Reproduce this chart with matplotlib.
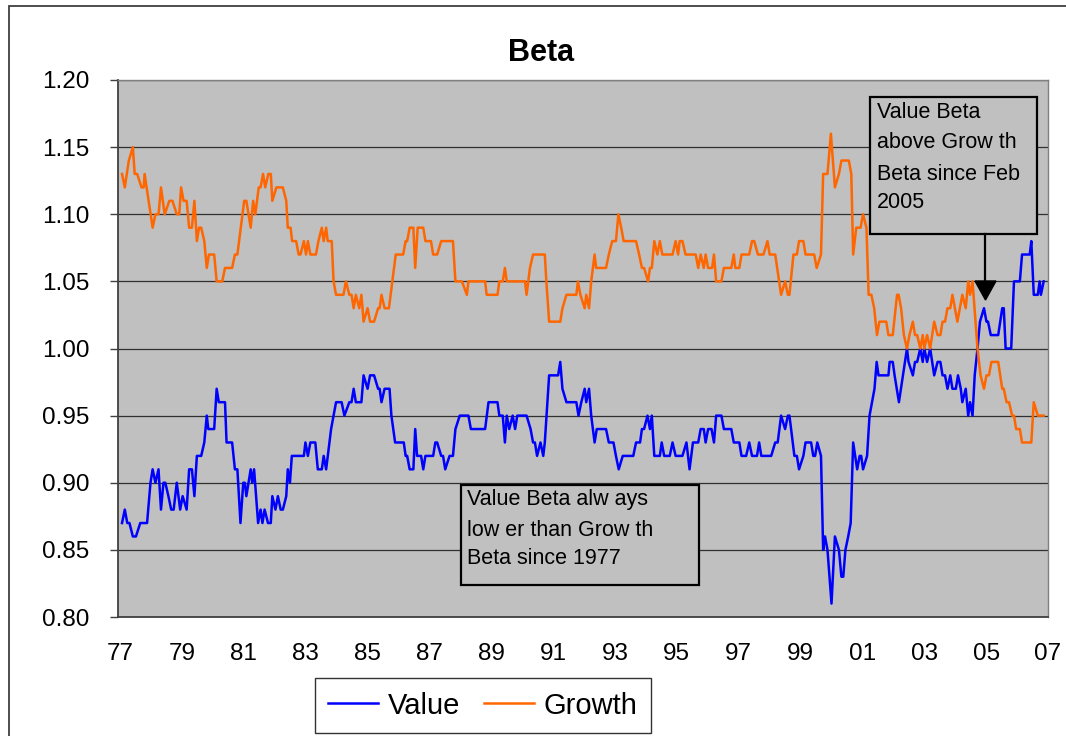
import matplotlib
matplotlib.use("Agg")
import matplotlib.pyplot as plt
from matplotlib.patches import Rectangle, Polygon
from matplotlib.lines import Line2D

plt.rcParams['font.family'] = ['Liberation Sans', 'DejaVu Sans']

# ---------------- data ----------------
value_dates = [
    1977.06, 1977.15, 1977.23, 1977.30, 1977.41, 1977.51, 1977.65, 1977.87, 1977.98, 1978.05,
    1978.14, 1978.24, 1978.32, 1978.40, 1978.46, 1978.56, 1978.65, 1978.73, 1978.83, 1978.94,
    1979.02, 1979.15, 1979.23, 1979.32, 1979.40, 1979.48, 1979.62, 1979.72, 1979.80, 1979.85,
    1980.04, 1980.12, 1980.19, 1980.39, 1980.44, 1980.62, 1980.71, 1980.79, 1980.89, 1980.98,
    1981.03, 1981.08, 1981.22, 1981.27, 1981.33, 1981.46, 1981.54, 1981.60, 1981.67, 1981.78,
    1981.87, 1981.92, 1982.02, 1982.10, 1982.19, 1982.26, 1982.37, 1982.42, 1982.49, 1982.55,
    1982.94, 1982.99, 1983.07, 1983.15, 1983.31, 1983.39, 1983.52, 1983.58, 1983.66, 1983.82,
    1983.98, 1984.16, 1984.25, 1984.41, 1984.48, 1984.55, 1984.62, 1984.80, 1984.87, 1985.00,
    1985.08, 1985.21, 1985.34, 1985.39, 1985.45, 1985.55, 1985.71, 1985.77, 1985.89, 1986.17,
    1986.23, 1986.28, 1986.36, 1986.48, 1986.54, 1986.60, 1986.73, 1986.80, 1986.87, 1987.12,
    1987.19, 1987.25, 1987.38, 1987.44, 1987.51, 1987.65, 1987.76, 1987.84, 1987.98, 1988.26,
    1988.34, 1988.80, 1988.91, 1989.20, 1989.26, 1989.37, 1989.44, 1989.50, 1989.58, 1989.69,
    1989.77, 1989.84, 1990.14, 1990.27, 1990.35, 1990.41, 1990.48, 1990.59, 1990.68, 1990.73,
    1990.87, 1991.16, 1991.23, 1991.30, 1991.43, 1991.75, 1991.82, 1991.91, 1992.02, 1992.07,
    1992.16, 1992.23, 1992.34, 1992.41, 1992.71, 1992.80, 1992.95, 1993.03, 1993.12, 1993.25,
    1993.59, 1993.68, 1993.81, 1993.87, 1993.94, 1994.05, 1994.13, 1994.19, 1994.27, 1994.45,
    1994.51, 1994.59, 1994.77, 1994.86, 1994.96, 1995.18, 1995.31, 1995.41, 1995.52, 1995.69,
    1995.77, 1995.87, 1995.93, 1996.01, 1996.12, 1996.20, 1996.27, 1996.44, 1996.52, 1996.76,
    1996.84, 1997.02, 1997.09, 1997.24, 1997.34, 1997.43, 1997.59, 1997.66, 1997.73, 1998.05,
    1998.18, 1998.26, 1998.37, 1998.50, 1998.59, 1998.64, 1998.80, 1998.88, 1998.95, 1999.09,
    1999.16, 1999.34, 1999.41, 1999.47, 1999.54, 1999.66, 1999.73, 1999.79, 1999.87, 2000.00,
    2000.11, 2000.24, 2000.32, 2000.38, 2000.45, 2000.54, 2000.62, 2000.70, 2000.83, 2000.91,
    2000.96, 2001.02, 2001.15, 2001.23, 2001.31, 2001.39, 2001.46, 2001.52, 2001.84, 2001.88,
    2001.98, 2002.04, 2002.18, 2002.31, 2002.44, 2002.49, 2002.63, 2002.70, 2002.77, 2002.87,
    2002.95, 2003.00, 2003.09, 2003.19, 2003.32, 2003.43, 2003.52, 2003.59, 2003.67, 2003.75,
    2003.84, 2003.91, 2004.02, 2004.09, 2004.18, 2004.23, 2004.34, 2004.42, 2004.48, 2004.56,
    2004.63, 2004.72, 2004.80, 2004.93, 2005.01, 2005.06, 2005.15, 2005.39, 2005.52, 2005.57,
    2005.63, 2005.81, 2005.90, 2006.09, 2006.16, 2006.41, 2006.46, 2006.54, 2006.67, 2006.73,
    2006.77, 2006.86,
]
value_beta = [
    0.87, 0.88, 0.87, 0.87, 0.86, 0.86, 0.87, 0.87, 0.90, 0.91,
    0.90, 0.91, 0.88, 0.90, 0.90, 0.89, 0.88, 0.88, 0.90, 0.88,
    0.89, 0.88, 0.91, 0.91, 0.89, 0.92, 0.92, 0.93, 0.95, 0.94,
    0.94, 0.97, 0.96, 0.96, 0.93, 0.93, 0.91, 0.91, 0.87, 0.90,
    0.90, 0.89, 0.91, 0.90, 0.91, 0.87, 0.88, 0.87, 0.88, 0.87,
    0.87, 0.89, 0.88, 0.89, 0.88, 0.88, 0.89, 0.91, 0.90, 0.92,
    0.92, 0.93, 0.92, 0.93, 0.93, 0.91, 0.91, 0.92, 0.91, 0.94,
    0.96, 0.96, 0.95, 0.96, 0.96, 0.97, 0.96, 0.96, 0.98, 0.97,
    0.98, 0.98, 0.97, 0.97, 0.96, 0.97, 0.97, 0.95, 0.93, 0.93,
    0.92, 0.92, 0.91, 0.91, 0.94, 0.92, 0.92, 0.91, 0.92, 0.92,
    0.93, 0.93, 0.92, 0.92, 0.91, 0.92, 0.92, 0.94, 0.95, 0.95,
    0.94, 0.94, 0.96, 0.96, 0.95, 0.95, 0.93, 0.95, 0.94, 0.95,
    0.94, 0.95, 0.95, 0.94, 0.93, 0.93, 0.92, 0.93, 0.92, 0.93,
    0.98, 0.98, 0.99, 0.97, 0.96, 0.96, 0.95, 0.96, 0.97, 0.96,
    0.97, 0.95, 0.93, 0.94, 0.94, 0.93, 0.93, 0.92, 0.91, 0.92,
    0.92, 0.93, 0.93, 0.94, 0.94, 0.95, 0.94, 0.95, 0.92, 0.92,
    0.93, 0.92, 0.92, 0.93, 0.92, 0.92, 0.93, 0.91, 0.93, 0.93,
    0.94, 0.94, 0.93, 0.94, 0.94, 0.93, 0.95, 0.95, 0.94, 0.94,
    0.93, 0.93, 0.92, 0.92, 0.93, 0.92, 0.92, 0.93, 0.92, 0.92,
    0.93, 0.93, 0.95, 0.94, 0.95, 0.95, 0.92, 0.92, 0.91, 0.92,
    0.93, 0.93, 0.92, 0.92, 0.93, 0.92, 0.85, 0.86, 0.85, 0.81,
    0.86, 0.85, 0.83, 0.83, 0.85, 0.86, 0.87, 0.93, 0.91, 0.92,
    0.92, 0.91, 0.92, 0.95, 0.96, 0.97, 0.99, 0.98, 0.98, 0.99,
    0.99, 0.98, 0.96, 0.98, 1.00, 0.99, 0.98, 0.99, 0.99, 1.00,
    0.99, 1.00, 0.99, 1.00, 0.98, 0.99, 0.99, 0.98, 0.98, 0.97,
    0.98, 0.97, 0.97, 0.98, 0.97, 0.96, 0.97, 0.95, 0.96, 0.95,
    0.98, 1.00, 1.02, 1.03, 1.02, 1.02, 1.01, 1.01, 1.03, 1.03,
    1.00, 1.00, 1.05, 1.05, 1.07, 1.07, 1.08, 1.04, 1.04, 1.05,
    1.04, 1.05,
]

growth_dates = [
    1977.06, 1977.15, 1977.28, 1977.41, 1977.47, 1977.55, 1977.69, 1977.76, 1977.79, 1977.92,
    1978.05, 1978.14, 1978.24, 1978.32, 1978.44, 1978.59, 1978.69, 1978.83, 1978.91, 1978.97,
    1979.05, 1979.15, 1979.23, 1979.32, 1979.40, 1979.48, 1979.55, 1979.62, 1979.72, 1979.80,
    1979.87, 1980.04, 1980.12, 1980.30, 1980.39, 1980.62, 1980.71, 1980.79, 1980.90, 1981.01,
    1981.08, 1981.22, 1981.30, 1981.37, 1981.48, 1981.54, 1981.62, 1981.69, 1981.79, 1981.87,
    1981.92, 1982.05, 1982.26, 1982.37, 1982.42, 1982.51, 1982.56, 1982.69, 1982.77, 1982.83,
    1982.94, 1983.01, 1983.07, 1983.15, 1983.33, 1983.41, 1983.52, 1983.58, 1983.66, 1983.71,
    1983.84, 1983.90, 1983.98, 1984.22, 1984.30, 1984.41, 1984.48, 1984.55, 1984.62, 1984.73,
    1984.80, 1984.87, 1985.00, 1985.08, 1985.21, 1985.34, 1985.39, 1985.45, 1985.55, 1985.69,
    1985.80, 1985.91, 1986.15, 1986.23, 1986.28, 1986.36, 1986.48, 1986.54, 1986.62, 1986.80,
    1986.87, 1987.05, 1987.12, 1987.25, 1987.38, 1987.76, 1987.84, 1988.05, 1988.21, 1988.26,
    1988.80, 1988.85, 1989.20, 1989.26, 1989.37, 1989.44, 1989.50, 1990.09, 1990.14, 1990.25,
    1990.35, 1990.73, 1990.78, 1990.87, 1991.23, 1991.30, 1991.43, 1991.75, 1991.80, 1991.88,
    1992.02, 1992.07, 1992.16, 1992.23, 1992.34, 1992.39, 1992.71, 1992.80, 1992.91, 1993.03,
    1993.11, 1993.20, 1993.28, 1993.68, 1993.78, 1993.87, 1993.94, 1994.07, 1994.13, 1994.19,
    1994.27, 1994.37, 1994.45, 1994.53, 1994.86, 1994.96, 1995.04, 1995.09, 1995.18, 1995.28,
    1995.61, 1995.69, 1995.77, 1995.87, 1995.93, 1996.01, 1996.14, 1996.20, 1996.27, 1996.44,
    1996.52, 1996.76, 1996.84, 1996.89, 1997.02, 1997.09, 1997.34, 1997.43, 1997.50, 1997.62,
    1997.80, 1997.93, 1998.00, 1998.18, 1998.37, 1998.50, 1998.59, 1998.64, 1998.77, 1998.88,
    1998.95, 1999.09, 1999.16, 1999.44, 1999.52, 1999.66, 1999.73, 1999.87, 1999.98, 2000.11,
    2000.24, 2000.32, 2000.56, 2000.64, 2000.70, 2000.80, 2000.94, 2001.02, 2001.13, 2001.20,
    2001.29, 2001.38, 2001.47, 2001.55, 2001.77, 2001.84, 2001.98, 2002.12, 2002.17, 2002.25,
    2002.34, 2002.44, 2002.52, 2002.63, 2002.70, 2002.77, 2002.87, 2002.95, 2003.00, 2003.09,
    2003.19, 2003.32, 2003.43, 2003.52, 2003.59, 2003.67, 2003.75, 2003.84, 2003.91, 2003.99,
    2004.07, 2004.23, 2004.34, 2004.42, 2004.48, 2004.56, 2004.72, 2004.82, 2004.93, 2005.01,
    2005.09, 2005.17, 2005.39, 2005.52, 2005.57, 2005.66, 2005.74, 2005.84, 2005.90, 2005.97,
    2006.09, 2006.16, 2006.46, 2006.54, 2006.67, 2006.86,
]
growth_beta = [
    1.13, 1.12, 1.14, 1.15, 1.13, 1.13, 1.12, 1.12, 1.13, 1.11,
    1.09, 1.10, 1.10, 1.12, 1.10, 1.11, 1.11, 1.10, 1.10, 1.12,
    1.11, 1.11, 1.09, 1.09, 1.11, 1.08, 1.09, 1.09, 1.08, 1.06,
    1.07, 1.07, 1.05, 1.05, 1.06, 1.06, 1.07, 1.07, 1.09, 1.11,
    1.11, 1.09, 1.11, 1.10, 1.12, 1.12, 1.13, 1.12, 1.13, 1.13,
    1.11, 1.12, 1.12, 1.11, 1.09, 1.09, 1.08, 1.08, 1.07, 1.07,
    1.08, 1.07, 1.08, 1.07, 1.07, 1.08, 1.09, 1.08, 1.09, 1.08,
    1.08, 1.05, 1.04, 1.04, 1.05, 1.04, 1.04, 1.03, 1.04, 1.03,
    1.04, 1.02, 1.03, 1.02, 1.02, 1.03, 1.03, 1.04, 1.03, 1.03,
    1.05, 1.07, 1.07, 1.08, 1.08, 1.09, 1.09, 1.06, 1.09, 1.09,
    1.08, 1.08, 1.07, 1.07, 1.08, 1.08, 1.05, 1.05, 1.04, 1.05,
    1.05, 1.04, 1.04, 1.05, 1.05, 1.06, 1.05, 1.05, 1.04, 1.06,
    1.07, 1.07, 1.05, 1.02, 1.02, 1.03, 1.04, 1.04, 1.05, 1.04,
    1.03, 1.04, 1.03, 1.05, 1.07, 1.06, 1.06, 1.07, 1.08, 1.08,
    1.10, 1.09, 1.08, 1.08, 1.07, 1.06, 1.06, 1.05, 1.06, 1.06,
    1.08, 1.07, 1.08, 1.07, 1.07, 1.08, 1.07, 1.08, 1.08, 1.07,
    1.07, 1.06, 1.07, 1.06, 1.07, 1.06, 1.06, 1.07, 1.05, 1.05,
    1.06, 1.06, 1.07, 1.06, 1.06, 1.07, 1.07, 1.08, 1.08, 1.07,
    1.07, 1.08, 1.07, 1.07, 1.04, 1.05, 1.04, 1.04, 1.07, 1.07,
    1.08, 1.08, 1.07, 1.07, 1.06, 1.07, 1.13, 1.13, 1.16, 1.12,
    1.13, 1.14, 1.14, 1.13, 1.07, 1.09, 1.09, 1.10, 1.09, 1.04,
    1.04, 1.03, 1.01, 1.02, 1.02, 1.01, 1.01, 1.04, 1.04, 1.03,
    1.01, 1.00, 1.01, 1.02, 1.01, 1.01, 1.00, 1.01, 1.00, 1.01,
    1.00, 1.02, 1.01, 1.01, 1.02, 1.02, 1.03, 1.03, 1.04, 1.03,
    1.02, 1.04, 1.03, 1.05, 1.04, 1.05, 1.00, 0.98, 0.97, 0.98,
    0.98, 0.99, 0.99, 0.97, 0.97, 0.96, 0.96, 0.95, 0.95, 0.94,
    0.94, 0.93, 0.93, 0.96, 0.95, 0.95,
]

x_tick_years = [1977, 1979, 1981, 1983, 1985, 1987, 1989, 1991, 1993, 1995,
                1997, 1999, 2001, 2003, 2005, 2007]
x_tick_labels = ["77", "79", "81", "83", "85", "87", "89", "91", "93", "95",
                 "97", "99", "01", "03", "05", "07"]
y_ticks = [0.80, 0.85, 0.90, 0.95, 1.00, 1.05, 1.10, 1.15, 1.20]

series_names = ["Value", "Growth"]
title_text = "Beta"
note_low = ["Value Beta alw ays", "low er than Grow th", "Beta since 1977"]
note_high = ["Value Beta", "above Grow th", "Beta since Feb", "2005"]

# ---------------- figure ----------------
W, H = 1066, 736
fig = plt.figure(figsize=(W / 100, H / 100), dpi=100)
fig.patch.set_facecolor("white")


def fx(px):
    return px / W


def fy(py):
    return 1 - py / H


# outer chart border (only left and top visible in reference)
fig.add_artist(Rectangle((fx(9), -0.05), 1.2, fy(6) + 0.05, transform=fig.transFigure,
                         fill=False, edgecolor="#404040", linewidth=1.3))

ax = fig.add_axes([fx(118), fy(617), fx(1048) - fx(118), fy(80) - fy(617)])
ax.set_facecolor("#C0C0C0")

ax.plot(value_dates, value_beta, color="#0000FF", linewidth=1.8, label=series_names[0], zorder=3)
ax.plot(growth_dates, growth_beta, color="#FF6600", linewidth=1.8, label=series_names[1], zorder=3)

ax.set_xlim(1976.93, 2007.0)
ax.set_ylim(0.80, 1.20)
ax.set_yticks(y_ticks)
ax.set_yticklabels([f"{v:.2f}" for v in y_ticks])
ax.set_xticks(x_tick_years)
ax.set_xticklabels(x_tick_labels)
ax.yaxis.grid(True, color="#303030", linewidth=0.9, zorder=1)
ax.set_axisbelow(True)
ax.tick_params(axis="y", direction="out", length=5.5, width=1.0, color="#404040",
               pad=15, labelsize=17.5)
ax.tick_params(axis="x", length=0, pad=19, labelsize=17.5)

for side in ["left", "bottom"]:
    ax.spines[side].set_color("#404040")
    ax.spines[side].set_linewidth(1.3)
for side in ["top", "right"]:
    ax.spines[side].set_color("#808080")
    ax.spines[side].set_linewidth(1.0)

# title
fig.text(fx(541), fy(53), title_text, ha="center", va="center",
         fontsize=22, fontweight="bold")

# annotation box 1
fig.add_artist(Rectangle((fx(461), fy(585)), fx(699) - fx(461), fy(485) - fy(585),
                         transform=fig.transFigure, facecolor="#C0C0C0",
                         edgecolor="black", linewidth=1.6, zorder=5))
for line, py in zip(note_low, [500, 530, 559]):
    fig.text(fx(467), fy(py), line, ha="left", va="center", fontsize=15.5, zorder=6)

# annotation box 2
fig.add_artist(Rectangle((fx(870), fy(234)), fx(1037) - fx(870), fy(97) - fy(234),
                         transform=fig.transFigure, facecolor="#C0C0C0",
                         edgecolor="black", linewidth=1.6, zorder=5))
for line, py in zip(note_high, [113, 143, 174, 203]):
    fig.text(fx(877), fy(py), line, ha="left", va="center", fontsize=15.5, zorder=6)

# arrow
fig.add_artist(Line2D([fx(985), fx(985)], [fy(234), fy(284)], transform=fig.transFigure,
                      color="black", linewidth=1.6, zorder=6))
fig.add_artist(Polygon([[fx(975), fy(281)], [fx(996), fy(281)], [fx(985.5), fy(300)]],
                       closed=True, transform=fig.transFigure, facecolor="black",
                       edgecolor="black", zorder=6))

# legend
leg = fig.legend(loc="center", bbox_to_anchor=(fx(483), fy(705.5)), ncol=2,
                 fontsize=21, frameon=True, fancybox=False, handlelength=1.7,
                 handletextpad=0.35, columnspacing=0.8, borderpad=0.45,
                 borderaxespad=0)
leg.get_frame().set_edgecolor("black")
leg.get_frame().set_linewidth(1.0)
for h in leg.legend_handles:
    h.set_linewidth(1.8)

fig.savefig("out.png", dpi=100, facecolor="white")
